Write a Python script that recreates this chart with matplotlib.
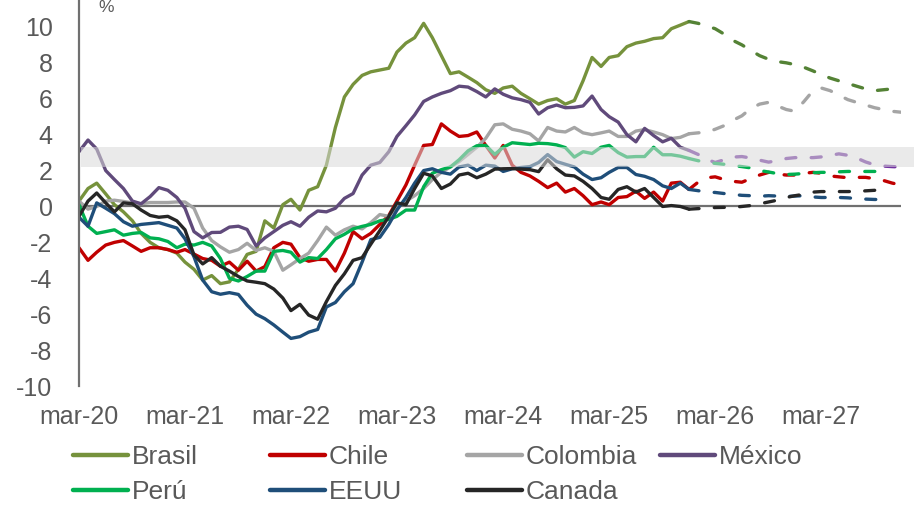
import matplotlib
matplotlib.use("Agg")
import matplotlib.pyplot as plt
import pandas as pd

plt.rcParams['font.family'] = ['Liberation Sans', 'DejaVu Sans']
plt.rcParams['axes.unicode_minus'] = False

# valores mensuales observados, mar-20 a dic-25
brasil = [0.3, 1.0, 1.3, 0.7, 0.1, -0.3, -0.8, -1.5, -2.0, -2.3,
          -2.4, -2.6, -3.1, -3.5, -4.1, -3.85, -4.3, -4.2, -3.5, -2.67,
          -2.5, -0.8, -1.2, 0.1, 0.4, -0.2, 0.9, 1.1, 2.3, 4.4,
          6.1, 6.8, 7.3, 7.5, 7.6, 7.7, 8.6, 9.1, 9.4, 10.2,
          9.4, 8.4, 7.4, 7.5, 7.2, 6.9, 6.5, 6.3, 6.6, 6.7,
          6.3, 6.0, 5.7, 5.9, 6.0, 5.7, 5.9, 7.0, 8.3, 7.8,
          8.3, 8.4, 8.9, 9.1, 9.2, 9.35, 9.4, 9.9, 10.1, 10.3]
chile = [-2.3, -3.0, -2.55, -2.15, -2.0, -1.9, -2.2, -2.5, -2.3, -2.3,
         -2.4, -2.55, -2.4, -2.65, -2.9, -3.0, -3.33, -3.1, -3.55, -3.05,
         -3.6, -3.35, -2.3, -2.0, -2.1, -2.85, -3.05, -2.95, -2.95, -3.6,
         -2.6, -1.4, -1.8, -1.5, -1.0, -0.5, 0.3, 1.2, 2.3, 3.4,
         3.45, 4.6, 4.2, 3.9, 3.95, 4.15, 3.4, 2.7, 3.4, 2.3,
         1.9, 1.7, 1.4, 1.05, 1.3, 0.8, 1.0, 0.6, 0.1, 0.25,
         0.1, 0.5, 0.55, 0.85, 0.45, 0.8, 0.3, 1.3, 1.35, 0.95]
colombia = [0.3, -0.15, 0.0, 0.3, 0.35, 0.28, 0.2, 0.15, 0.22, 0.22,
            0.22, 0.25, 0.25, -0.1, -1.2, -1.9, -2.25, -2.55, -2.4, -2.05,
            -2.45, -2.3, -2.5, -3.55, -3.25, -2.9, -2.6, -1.9, -1.15, -1.6,
            -1.3, -1.1, -1.25, -0.9, -0.45, -0.55, 0.0, 0.3, 0.6, 1.0,
            1.5, 1.9, 2.2, 2.5, 2.9, 3.3, 3.8, 4.55, 4.6, 4.3,
            4.2, 4.05, 3.65, 4.4, 4.2, 4.15, 4.4, 4.1, 4.0, 4.1,
            4.2, 3.9, 3.9, 4.2, 4.28, 4.15, 4.0, 3.78, 3.85, 4.05]
mexico = [3.05, 3.7, 3.2, 2.0, 1.5, 1.0, 0.3, 0.15, 0.55, 1.05,
          0.9, 0.5, -0.1, -1.4, -1.75, -1.45, -1.44, -1.15, -1.1, -1.28,
          -2.2, -1.75, -1.4, -1.05, -0.85, -1.1, -0.6, -0.25, -0.3, -0.1,
          0.45, 0.72, 1.75, 2.3, 2.45, 3.05, 3.9, 4.5, 5.1, 5.85,
          6.1, 6.3, 6.45, 6.7, 6.65, 6.4, 6.1, 6.55, 6.25, 6.05,
          5.95, 5.8, 5.15, 5.5, 5.65, 5.5, 5.52, 5.6, 6.15, 5.4,
          5.0, 4.7, 4.0, 3.6, 4.35, 3.95, 3.6, 3.8, 3.3, 3.12]
peru = [0.1, -1.1, -1.5, -1.4, -1.3, -1.6, -1.5, -1.45, -1.75, -1.8,
        -1.95, -2.3, -2.1, -2.15, -2.0, -2.2, -2.9, -4.0, -4.15, -3.9,
        -3.6, -3.6, -2.5, -2.45, -2.55, -3.1, -2.85, -2.9, -2.4, -1.8,
        -1.55, -1.25, -1.11, -1.0, -0.8, -0.72, -0.55, -0.2, -0.2, 1.1,
        1.85, 2.05, 2.2, 2.6, 3.1, 3.38, 3.4, 2.9, 3.3, 3.55,
        3.5, 3.45, 3.52, 3.5, 3.43, 3.28, 2.75, 3.05, 2.95, 3.3,
        3.4, 3.0, 2.75, 2.78, 2.78, 3.3, 2.88, 2.88, 2.8, 2.67]
eeuu = [-0.6, -1.1, 0.2, -0.1, -0.4, -0.85, -1.1, -1.0, -0.95, -0.9,
        -1.05, -1.2, -1.8, -2.8, -4.1, -4.75, -4.89, -4.8, -4.9, -5.5,
        -6.0, -6.25, -6.6, -7.0, -7.35, -7.25, -7.0, -6.85, -5.6, -5.35,
        -4.75, -4.3, -3.1, -1.85, -1.72, -1.0, -0.2, 0.5, 1.3, 2.0,
        2.1, 1.9, 1.8, 2.2, 2.3, 2.0, 2.3, 2.25, 1.95, 2.1,
        2.17, 2.22, 2.45, 2.89, 2.5, 2.35, 2.2, 1.8, 1.5, 1.6,
        1.9, 2.17, 2.17, 1.78, 1.68, 1.5, 1.15, 1.0, 1.3, 0.95]
canada = [-0.55, 0.3, 0.75, 0.2, -0.3, 0.2, 0.15, -0.2, -0.5, -0.6,
          -0.55, -0.8, -1.3, -2.7, -3.2, -2.85, -3.33, -3.6, -3.9, -4.15,
          -4.22, -4.3, -4.6, -5.1, -5.8, -5.45, -6.05, -6.28, -5.3, -4.4,
          -3.75, -3.0, -2.85, -2.1, -1.35, -0.55, 0.2, 0.1, 1.0, 1.85,
          1.7, 1.0, 1.25, 1.75, 1.85, 1.6, 1.8, 2.08, 2.1, 2.11,
          2.08, 2.05, 1.94, 2.6, 2.1, 1.75, 1.7, 1.4, 1.0, 0.5,
          0.4, 0.95, 1.1, 0.8, 1.0, 0.5, 0.0, 0.05, 0.0, -0.15]

# proyecciones mensuales desde dic-25
brasil_f = [10.3, 10.2, 10.05, 9.9, 9.6, 9.25, 9.0, 8.7, 8.4, 8.2, 8.07, 8.0, 7.9,
            7.75, 7.55, 7.35, 7.15, 7.0, 6.85, 6.7, 6.55, 6.45, 6.5, 6.55, 6.6]
chile_f = [0.95, 1.35, 1.6, 1.65, 1.5, 1.4, 1.35, 1.55, 1.75, 1.9, 1.8, 1.75, 1.75,
           1.85, 1.9, 1.85, 1.7, 1.65, 1.6, 1.62, 1.62, 1.55, 1.45, 1.3, 1.2]
colombia_f = [4.05, 4.1, 4.15, 4.3, 4.5, 4.8, 5.05, 5.45, 5.7, 5.8, 5.6, 5.4, 5.3,
              5.85, 6.45, 6.6, 6.45, 6.2, 5.95, 5.8, 5.65, 5.5, 5.4, 5.3, 5.25]
mexico_f = [3.12, 2.9, 2.62, 2.45, 2.6, 2.75, 2.78, 2.7, 2.58, 2.47, 2.55, 2.67, 2.72,
            2.72, 2.72, 2.76, 2.85, 2.93, 2.85, 2.7, 2.48, 2.32, 2.25, 2.22, 2.2]
peru_f = [2.67, 2.55, 2.45, 2.4, 2.35, 2.28, 2.22, 2.15, 2.0, 1.92, 1.83, 1.78,
          1.8, 1.84, 1.88, 1.9, 1.9, 1.93, 1.95, 1.95, 1.95, 1.95, 1.95]
eeuu_f = [0.95, 0.88, 0.8, 0.78, 0.72, 0.67, 0.62, 0.6, 0.57, 0.6, 0.58, 0.56,
          0.58, 0.6, 0.53, 0.5, 0.5, 0.5, 0.48, 0.44, 0.41, 0.39, 0.39]
canada_f = [-0.15, -0.12, -0.1, -0.06, -0.05, -0.05, 0.0, 0.05, 0.15, 0.25, 0.35, 0.5,
            0.6, 0.68, 0.8, 0.83, 0.83, 0.83, 0.83, 0.84, 0.87, 0.9, 0.93]

nombres = ['Brasil', 'Chile', 'Colombia', 'México', 'Perú', 'EEUU', 'Canada']
obs = [brasil, chile, colombia, mexico, peru, eeuu, canada]
proy = [brasil_f, chile_f, colombia_f, mexico_f, peru_f, eeuu_f, canada_f]
colores = ['#76923c', '#c00000', '#a5a5a5', '#604a7b', '#00b050', '#1f4e79', '#262626']
colores_f = ['#548235', '#c00000', '#a5a5a5', '#7030a0', '#00b050', '#1f4e79', '#262626']

banda = (2.2, 3.3)
ticks_x = ['mar-20', 'mar-21', 'mar-22', 'mar-23', 'mar-24', 'mar-25', 'mar-26', 'mar-27']

fechas = pd.date_range('2020-03-01', periods=len(brasil), freq='MS')
gris = '#595959'

fig = plt.figure(figsize=(9.14, 5.05), dpi=100)
ax = fig.add_axes([79/914, 1 - 386/505, (901-79)/914, 386/505])

ax.axhline(0, color='#707070', lw=1.6, zorder=1)

lineas = []
for nom, y, yf, c, cf in zip(nombres, obs, proy, colores, colores_f):
    l, = ax.plot(fechas, y, color=c, lw=2.4, label=nom, zorder=2,
                 solid_capstyle='round', solid_joinstyle='round')
    ff = pd.date_range(fechas[-1], periods=len(yf), freq='MS')
    ax.plot(ff, yf, color=cf, lw=2.4, linestyle=(0, (3.0, 4.6)),
            dash_capstyle='round', zorder=2)
    lineas.append(l)

sp = ax.axhspan(banda[0], banda[1], xmin=0.003, xmax=1.016, color='#d9d9d9',
                alpha=0.55, lw=0, zorder=5)
sp.set_clip_on(False)

ax.set_xlim(pd.Timestamp('2020-03-01'), pd.Timestamp('2027-12-01'))
ax.set_ylim(-10, 11.5)
ax.set_yticks(range(-10, 11, 2))
ax.set_xticks(pd.date_range('2020-03-01', periods=len(ticks_x), freq='12MS'))
ax.set_xticklabels(ticks_x)

for s in ['top', 'right', 'bottom']:
    ax.spines[s].set_visible(False)
ax.spines['left'].set_color('#707070')
ax.spines['left'].set_linewidth(1.6)
ax.tick_params(axis='y', length=0, pad=19, labelsize=18, labelcolor=gris)
ax.tick_params(axis='x', length=0, pad=14, labelsize=18, labelcolor=gris)

fig.text(98/914, 1 - 8/505, '%', fontsize=12.5, color=gris, va='center')

# leyenda en 4 columnas de ancho fijo, como en el original
cols = [[0, 4], [1, 5], [2, 6], [3]]
xs = [73, 270, 467, 660]
for idx, x0 in zip(cols, xs):
    leg = fig.legend([lineas[i] for i in idx], [nombres[i] for i in idx],
                     loc='upper left', bbox_to_anchor=(x0/914, 1 - 445/505),
                     frameon=False, fontsize=19, handlelength=2.1,
                     handletextpad=0.12, borderpad=0, borderaxespad=0,
                     labelspacing=0.42, labelcolor=gris)
    for h in leg.get_lines():
        h.set_linewidth(3.2)

fig.savefig('out.png', dpi=100)
